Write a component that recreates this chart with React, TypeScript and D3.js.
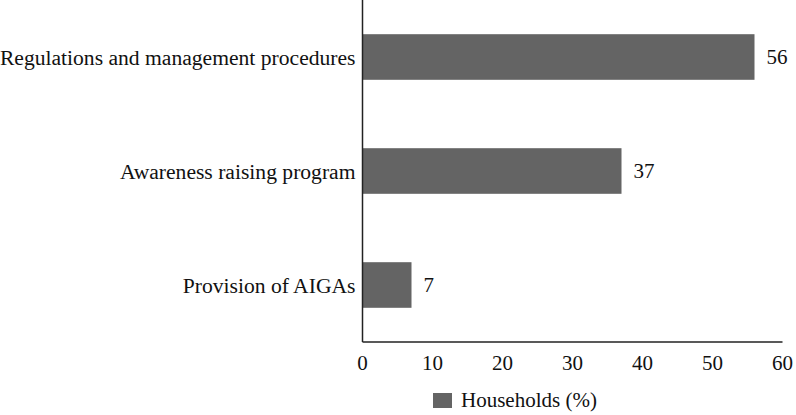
import React from "react";
import * as d3 from "d3";

const categories = [
  "Regulations and management procedures",
  "Awareness raising program",
  "Provision of AIGAs",
];
const values = [56, 37, 7];
const xTicks = [0, 10, 20, 30, 40, 50, 60];
const seriesName = "Households (%)";

export default function App() {
  const W = 796;
  const H = 415;
  const x0 = 362.5;
  const x = d3.scaleLinear().domain([0, 60]).range([x0, 782.5]);
  const y = d3
    .scaleBand<string>()
    .domain(categories)
    .range([0, 342])
    .paddingInner(0.6)
    .paddingOuter(0.3);
  const font = "'Times New Roman', 'Liberation Serif', 'DejaVu Serif', serif";
  const barColor = "#646464";
  const fs = 21;
  const labelFs = 21.6;
  return (
    <svg
      width={W}
      height={H}
      style={{ position: "absolute", left: 0, top: 0, background: "#fff" }}
    >
      <g style={{ fontFamily: font }}>
        {categories.map((c, i) => (
          <g key={c}>
            <rect
              x={x(0)}
              y={y(c)!}
              width={x(values[i]) - x(0)}
              height={y.bandwidth()}
              fill={barColor}
            />
            <text
              x={x0 - 7}
              y={y(c)! + y.bandwidth() / 2}
              dy="0.35em"
              textAnchor="end"
              fontSize={labelFs}
              fontFamily={font}
              fill="#111"
            >
              {c}
            </text>
            <text
              x={x(values[i]) + 12}
              y={y(c)! + y.bandwidth() / 2}
              dy="0.35em"
              fontSize={fs}
              fontFamily={font}
              fill="#111"
            >
              {values[i]}
            </text>
          </g>
        ))}
        <line x1={x0} x2={x0} y1={0} y2={342} stroke="#222" strokeWidth={1.5} />
        <line x1={x0} x2={x(60)} y1={342} y2={342} stroke="#222" strokeWidth={1.5} />
        {xTicks.map((t) => (
          <text
            key={t}
            x={x(t)}
            y={370}
            textAnchor="middle"
            fontSize={fs}
            fontFamily={font}
            fill="#111"
          >
            {t}
          </text>
        ))}
        <rect x={433} y={393} width={19} height={15} fill={barColor} />
        <text x={461} y={407} fontSize={fs} fontFamily={font} fill="#111">
          {seriesName}
        </text>
      </g>
    </svg>
  );
}
